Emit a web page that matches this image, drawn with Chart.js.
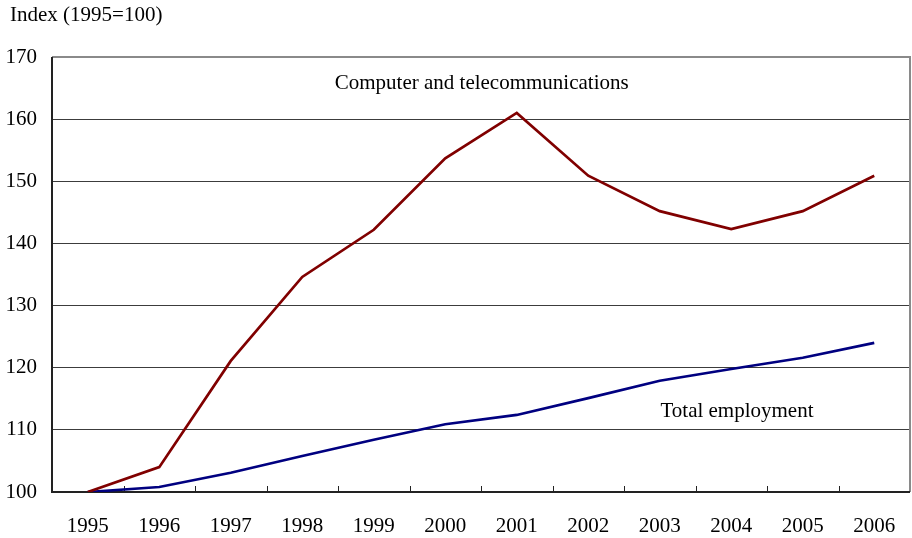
<!DOCTYPE html>
<html>
<head>
<meta charset="utf-8">
<script src="https://cdn.jsdelivr.net/npm/chart.js@4/dist/chart.umd.min.js"></script>
<style>
  html, body { margin: 0; padding: 0; background: #fff; }
  #wrap { width: 912px; height: 538px; }
</style>
</head>
<body>
<div id="wrap"><canvas id="c" width="912" height="538"></canvas></div>
<script>
// Employment index, 1995 = 100
const years = ['1995','1996','1997','1998','1999','2000','2001','2002','2003','2004','2005','2006'];
const computerTelecom = [100, 104.0, 121.1, 134.6, 142.2, 153.7, 161.0, 150.9, 145.2, 142.3, 145.2, 150.9];
const totalEmployment = [100, 100.8, 103.1, 105.8, 108.4, 110.9, 112.4, 115.1, 117.9, 119.8, 121.6, 124.0];
const yTicks = [100, 110, 120, 130, 140, 150, 160, 170];

const FONT = '"Liberation Serif", "Times New Roman", serif';
const FONT_SIZE = 21;

// Series labels written inside the plot, placed in data coordinates
const seriesLabels = [
  { text: 'Computer and telecommunications', x: 5.51, y: 165.8 },
  { text: 'Total employment', x: 9.08, y: 113.0 }
];

const framePlugin = {
  id: 'frame',
  beforeDatasetsDraw(chart) {
    const { ctx, chartArea: a, scales: { x } } = chart;
    ctx.save();
    // top and right edges in grey
    ctx.strokeStyle = '#8a8a8a';
    ctx.lineWidth = 2;
    ctx.beginPath();
    ctx.moveTo(a.left, a.top);
    ctx.lineTo(a.right, a.top);
    ctx.lineTo(a.right, a.bottom);
    ctx.stroke();
    // left and bottom axes in black
    ctx.strokeStyle = '#222';
    ctx.beginPath();
    ctx.moveTo(a.left, a.top);
    ctx.lineTo(a.left, a.bottom);
    ctx.lineTo(a.right, a.bottom);
    ctx.stroke();
    // inward tick marks between categories
    ctx.lineWidth = 1;
    for (let i = 0; i < years.length - 1; i++) {
      const px = Math.round((x.getPixelForValue(i) + x.getPixelForValue(i + 1)) / 2) + 0.5;
      ctx.beginPath();
      ctx.moveTo(px, a.bottom);
      ctx.lineTo(px, a.bottom - 6);
      ctx.stroke();
    }
    ctx.restore();
  },
  afterDraw(chart) {
    const { ctx, scales: { x, y } } = chart;
    ctx.save();
    ctx.fillStyle = '#000';
    ctx.font = FONT_SIZE + 'px ' + FONT;
    ctx.textBaseline = 'middle';
    ctx.textAlign = 'left';
    ctx.fillText('Index (1995=100)', 10, 15);
    ctx.textAlign = 'center';
    seriesLabels.forEach(l => {
      ctx.fillText(l.text, x.getPixelForValue(l.x), y.getPixelForValue(l.y));
    });
    ctx.restore();
  }
};

new Chart(document.getElementById('c'), {
  type: 'line',
  data: {
    labels: years,
    datasets: [
      {
        label: 'Computer and telecommunications',
        data: computerTelecom,
        borderColor: '#800000',
        borderWidth: 2.7,
        pointRadius: 0,
        tension: 0,
        fill: false
      },
      {
        label: 'Total employment',
        data: totalEmployment,
        borderColor: '#000080',
        borderWidth: 2.7,
        pointRadius: 0,
        tension: 0,
        fill: false
      }
    ]
  },
  options: {
    responsive: false,
    animation: false,
    layout: { padding: { top: 57, right: 2, left: 0, bottom: 0 } },
    plugins: {
      legend: { display: false },
      tooltip: { enabled: false },
      title: { display: false }
    },
    scales: {
      x: {
        offset: true,
        grid: { display: false, offset: true },
        border: { display: false },
        ticks: {
          color: '#000',
          font: { family: FONT, size: FONT_SIZE },
          padding: 14,
          maxRotation: 0,
          autoSkip: false
        },
        afterFit(scale) { scale.height = 46; }
      },
      y: {
        min: 100,
        max: 170,
        afterBuildTicks(scale) { scale.ticks = yTicks.map(v => ({ value: v })); },
        grid: {
          drawTicks: false,
          lineWidth: 1,
          color: ctx => (ctx.tick && (ctx.tick.value === 100 || ctx.tick.value === 170)) ? 'rgba(0,0,0,0)' : '#3c3c3c'
        },
        border: { display: false },
        ticks: {
          color: '#000',
          font: { family: FONT, size: FONT_SIZE },
          padding: 15
        },
        afterFit(scale) { scale.width = 52; }
      }
    }
  },
  plugins: [framePlugin]
});
</script>
</body>
</html>
